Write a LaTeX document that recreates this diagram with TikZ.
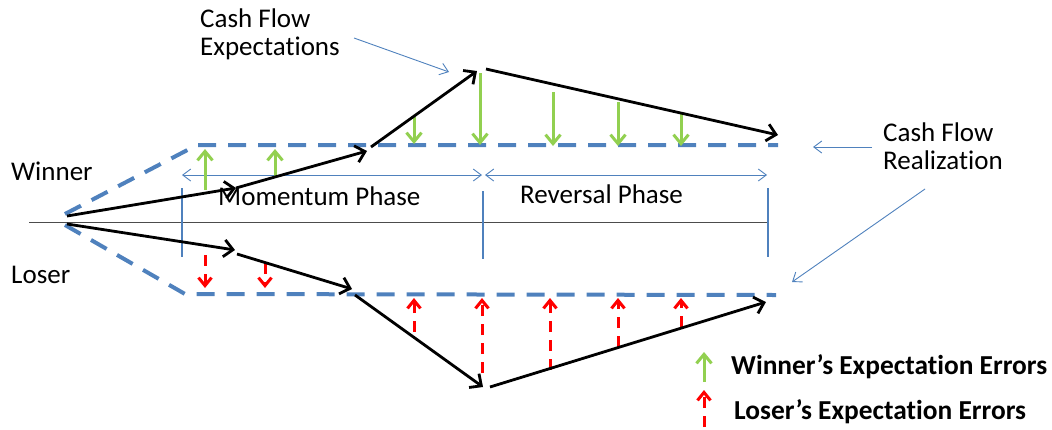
\documentclass[tikz,border=0pt]{standalone}
\usepackage{fontspec}
\setmainfont{Carlito}
\usetikzlibrary{arrows.meta}
\definecolor{obl}{HTML}{4F81BD}
\definecolor{grn}{HTML}{92D050}
\definecolor{rd}{HTML}{FF0000}
\newcommand{\tiSep}{t\kern0pt i}
\begin{document}
\begin{tikzpicture}[x=1pt,y=-1pt,
  txt/.style={inner sep=0pt,font=\fontsize{27}{32}\selectfont},
  lgd/.style={inner sep=0pt,font=\fontsize{27.4}{31}\selectfont\bfseries},
  blk/.style={line width=2.8pt,-{Straight Barb[length=9pt,width=17pt,line width=2.8pt]}},
  bound/.style={obl,line width=4pt,dash pattern=on 18pt off 12pt},
  garr/.style={grn,line width=3pt,-{Straight Barb[length=9pt,width=15pt,line width=3pt]}},
  rarr/.style={rd,line width=3pt,dash pattern=on 11pt off 8pt,-{Straight Barb[length=8pt,width=13pt,line width=3pt]}},
  thin/.style={obl,line width=0.9pt,-{Straight Barb[length=8pt,width=12pt,line width=0.9pt]}},
  phase/.style={obl,line width=0.9pt,{Straight Barb[length=8pt,width=12pt,line width=0.9pt]}-{Straight Barb[length=8pt,width=12pt,line width=0.9pt]}},
  vline/.style={obl,line width=1.6pt}]
\useasboundingbox (0,0) rectangle (1052,429);
% axis
\coordinate (ax0) at (29,222); \coordinate (ax1) at (767,222);
\draw[black!70,line width=1pt] (ax0) -- (ax1);
% boundaries
\coordinate (bu0) at (65,214); \coordinate (bu1) at (197,145); \coordinate (bu2) at (778,145);
\coordinate (bl0) at (65,225); \coordinate (bl1) at (185,294); \coordinate (bl2) at (776,295);
\draw[bound] (bu0) -- (bu1) -- (bu2);
\draw[bound] (bl0) -- (bl1) -- (bl2);
% vertical phase lines
\coordinate (v1a) at (182,188); \coordinate (v1b) at (182,257);
\coordinate (v2a) at (483,191); \coordinate (v2b) at (483,259);
\coordinate (v3a) at (768,188); \coordinate (v3b) at (768,257);
\draw[vline] (v1a) -- (v1b);
\draw[vline] (v2a) -- (v2b);
\draw[vline] (v3a) -- (v3b);
% phase arrows
\coordinate (p0) at (182,175); \coordinate (p1) at (482,175);
\coordinate (p2) at (485,175); \coordinate (p3) at (767,175);
\draw[phase] (p0) -- (p1);
\draw[phase] (p2) -- (p3);
\node[txt,anchor=base west] (mom) at (218,205) {Momentum Phase};
\node[txt,anchor=base west] (rev) at (520,203) {Reversal Phase};
% green error arrows
\foreach \n/\x/\ya/\yb in {g1/205/190/149, g2/275/176/149, g3/414/117/144, g4/480/73/145, g5/553/92/146, g6/618/102/146, g7/681/113/146}{
  \coordinate (\n a) at (\x,\ya); \coordinate (\n b) at (\x,\yb);
  \draw[garr] (\n a) -- (\n b);
}
% red error arrows
\foreach \n/\x/\ya/\yb in {r1/205/255/288, r2/265/263/288, r3/414/332/298, r4/482/373/298, r5/550/370/298, r6/618/347/298, r7/681/327/298}{
  \coordinate (\n a) at (\x,\ya); \coordinate (\n b) at (\x,\yb);
  \draw[rarr] (\n a) -- (\n b);
}
% winner path
\coordinate (w0) at (67,216); \coordinate (w1) at (236,188);
\coordinate (w2) at (367,151); \coordinate (w2b) at (371,147);
\coordinate (w3) at (477,71); \coordinate (w3b) at (486,69);
\coordinate (w4) at (778,135);
\draw[blk] (w0) -- (w1);
\draw[blk] (w1) -- (w2);
\draw[blk] (w2b) -- (w3);
\draw[blk] (w3b) -- (w4);
% loser path
\coordinate (l0) at (67,224); \coordinate (l1) at (235,250);
\coordinate (l1b) at (237,254); \coordinate (l2) at (352,289);
\coordinate (l2b) at (355,295); \coordinate (l3) at (483,387);
\coordinate (l3b) at (490,387); \coordinate (l4) at (766,302);
\draw[blk] (l0) -- (l1);
\draw[blk] (l1b) -- (l2);
\draw[blk] (l2b) -- (l3);
\draw[blk] (l3b) -- (l4);
% labels
\node[txt,anchor=base west] (win) at (11,180) {Winner};
\node[txt,anchor=base west] (los) at (11,283) {Loser};
\node[txt,anchor=base west] (cfe1) at (200,27) {Cash Flow};
\node[txt,anchor=base west] (cfe2) at (200,55) {Expecta\tiSep ons};
\node[txt,anchor=base west] (cfr1) at (883,141) {Cash Flow};
\node[txt,anchor=base west] (cfr2) at (883,169) {Realiza\tiSep on};
\coordinate (e0) at (354,38); \coordinate (e1) at (449,72);
\draw[thin] (e0) -- (e1);
\coordinate (c0) at (872,147); \coordinate (c1) at (813,147);
\draw[thin] (c0) -- (c1);
\coordinate (c2) at (925,189); \coordinate (c3) at (792,282);
\draw[thin] (c2) -- (c3);
% legend
\coordinate (lg1a) at (704,382); \coordinate (lg1b) at (704,352);
\draw[garr] (lg1a) -- (lg1b);
\coordinate (lg2a) at (704,427); \coordinate (lg2b) at (704,390);
\draw[rarr] (lg2a) -- (lg2b);
\node[lgd,anchor=base west] (lgw) at (731,374) {Winner’s Expecta\tiSep on Errors};
\node[lgd,anchor=base west] (lgl) at (734,419) {Loser’s Expecta\tiSep on Errors};
\end{tikzpicture}
\end{document}
